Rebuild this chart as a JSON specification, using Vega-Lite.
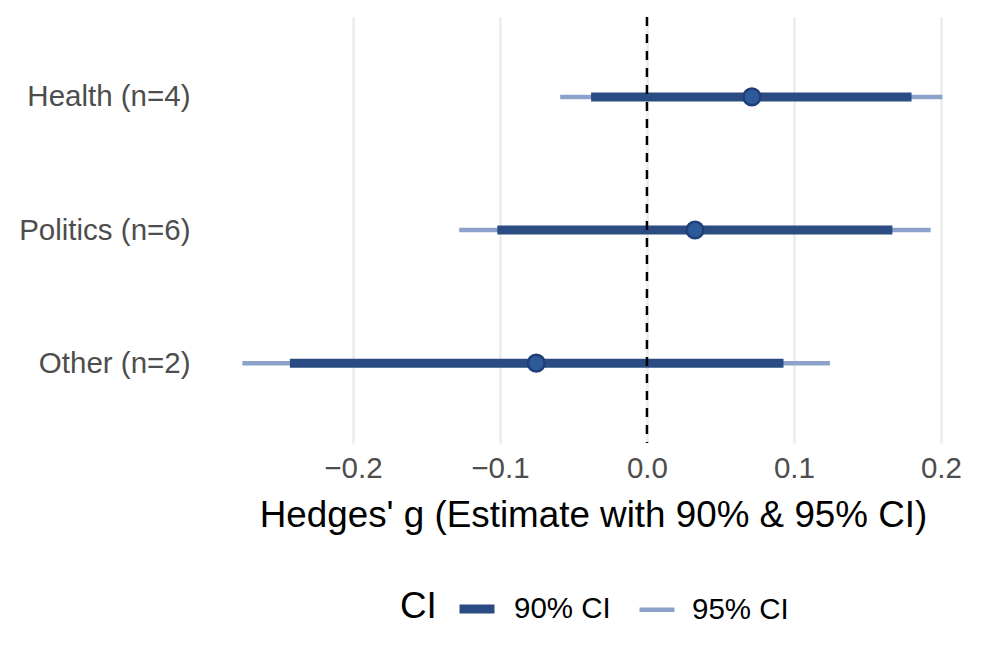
{
  "$schema": "https://vega.github.io/schema/vega-lite/v6.json",
  "width": 772,
  "height": 426,
  "autosize": {"type": "none"},
  "padding": {"left": 207, "top": 17, "right": 18, "bottom": 221},
  "background": "white",
  "datasets": {
    "ranges": [
      {"label": "Health (n=4)", "ci": "95% CI", "lo": -0.059, "hi": 0.201},
      {"label": "Politics (n=6)", "ci": "95% CI", "lo": -0.1277, "hi": 0.193},
      {"label": "Other (n=2)", "ci": "95% CI", "lo": -0.2752, "hi": 0.1245},
      {"label": "Health (n=4)", "ci": "90% CI", "lo": -0.038, "hi": 0.180},
      {"label": "Politics (n=6)", "ci": "90% CI", "lo": -0.1018, "hi": 0.167},
      {"label": "Other (n=2)", "ci": "90% CI", "lo": -0.2429, "hi": 0.0929}
    ],
    "est": [
      {"label": "Health (n=4)", "g": 0.0714},
      {"label": "Politics (n=6)", "g": 0.0327},
      {"label": "Other (n=2)", "g": -0.0753}
    ],
    "zero": [{"x": 0}]
  },
  "config": {
    "view": {"stroke": null},
    "font": "Liberation Sans",
    "axis": {"domain": false, "ticks": false}
  },
  "layer": [
    {
      "data": {"name": "ranges"},
      "mark": {"type": "rule", "strokeCap": "butt"},
      "encoding": {
        "y": {
          "field": "label", "type": "nominal",
          "sort": ["Health (n=4)", "Politics (n=6)", "Other (n=2)"],
          "scale": {"type": "point", "padding": 0.6},
          "axis": {"title": null, "grid": false, "labelFontSize": 29.5, "labelColor": "#4D4D4D", "labelPadding": 17}
        },
        "x": {
          "field": "lo", "type": "quantitative",
          "scale": {"domain": [-0.2993, 0.2259], "nice": false, "zero": false},
          "axis": {
            "title": "Hedges' g (Estimate with 90% & 95% CI)",
            "values": [-0.2, -0.1, 0, 0.1, 0.2],
            "format": ".1f",
            "grid": true, "gridColor": "#EBEBEB", "gridWidth": 2.5,
            "labelFontSize": 29.5, "labelColor": "#4D4D4D", "labelPadding": 11,
            "titleFontSize": 36.8, "titleColor": "black", "titleFontWeight": "normal", "titlePadding": 15
          }
        },
        "x2": {"field": "hi"},
        "color": {
          "field": "ci", "type": "nominal",
          "scale": {"domain": ["90% CI", "95% CI"], "range": ["#2B4C82", "#8DA2CB"]},
          "legend": {
            "title": "CI", "orient": "none", "direction": "horizontal",
            "legendX": 193, "legendY": 570,
            "titleOrient": "left", "titleFontSize": 36.8, "titleFontWeight": "normal", "titleColor": "black", "titlePadding": 18,
            "labelFontSize": 29.5, "labelColor": "black", "labelOffset": 15, "columnPadding": 19,
            "symbolType": "stroke", "symbolSize": 1225
          }
        },
        "strokeWidth": {
          "field": "ci", "type": "nominal",
          "scale": {"domain": ["90% CI", "95% CI"], "range": [9, 4.5]}
        }
      }
    },
    {
      "data": {"name": "zero"},
      "mark": {"type": "rule", "color": "black", "strokeWidth": 2.5, "strokeDash": [9, 8]},
      "encoding": {"x": {"field": "x", "type": "quantitative"}}
    },
    {
      "data": {"name": "est"},
      "mark": {"type": "circle", "size": 280, "fill": "#2F5A9A", "stroke": "#1E3F78", "strokeWidth": 2.5, "opacity": 1},
      "encoding": {
        "y": {"field": "label", "type": "nominal", "sort": ["Health (n=4)", "Politics (n=6)", "Other (n=2)"]},
        "x": {"field": "g", "type": "quantitative"}
      }
    }
  ]
}
